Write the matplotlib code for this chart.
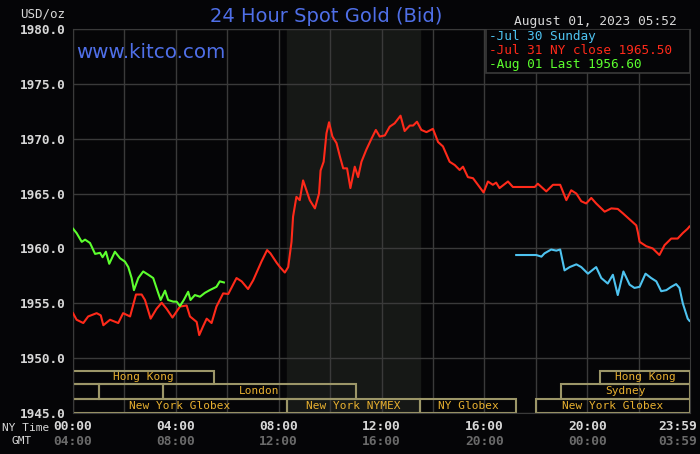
import matplotlib.pyplot as plt
from matplotlib.patches import Rectangle

# Jul 31 NY close (red) - hour of NY day, price
red_hours = [0.0, 0.14, 0.40, 0.59, 0.92, 1.08, 1.18, 1.44, 1.76, 1.95, 2.22, 2.45, 2.67, 2.80,
             3.02, 3.25, 3.45, 3.64, 3.87, 4.16, 4.42, 4.55, 4.81, 4.91, 5.06, 5.20, 5.39, 5.58,
             5.84, 6.04, 6.36, 6.56, 6.81, 7.01, 7.33, 7.55, 7.68, 7.92, 8.05, 8.24, 8.37, 8.50,
             8.56, 8.69, 8.82, 8.95, 9.08, 9.21, 9.41, 9.57, 9.63, 9.75, 9.86, 9.96, 10.09, 10.25,
             10.38, 10.51, 10.66, 10.79, 10.96, 11.09, 11.22, 11.41, 11.61, 11.78, 11.93, 12.13,
             12.32, 12.51, 12.74, 12.90, 13.10, 13.23, 13.38, 13.55, 13.75, 14.00, 14.20, 14.39,
             14.65, 14.85, 15.04, 15.17, 15.36, 15.56, 15.75, 15.97, 16.14, 16.33, 16.46, 16.59,
             16.92, 17.11, 17.96, 18.08, 18.41, 18.67, 18.95, 19.19, 19.38, 19.58, 19.77, 19.96,
             20.16, 20.35, 20.68, 20.94, 21.19, 21.39, 21.65, 21.91, 21.97, 22.04, 22.30, 22.55,
             22.81, 23.01, 23.27, 23.52, 23.72, 23.91, 23.98]
red_prices = [1954.1, 1953.5, 1953.2, 1953.8, 1954.1, 1953.9, 1953.0, 1953.5, 1953.2, 1954.1,
              1953.8, 1955.8, 1955.8, 1955.3, 1953.6, 1954.5, 1955.05, 1954.5, 1953.7, 1954.7,
              1954.8, 1953.8, 1953.3, 1952.1, 1952.9, 1953.6, 1953.2, 1954.7, 1955.9, 1955.85,
              1957.3, 1957.0, 1956.3, 1957.1, 1958.8, 1959.85, 1959.55, 1958.7, 1958.3, 1957.8,
              1958.3, 1960.6, 1962.9, 1964.7, 1964.4, 1966.2, 1965.3, 1964.4, 1963.65, 1965.0,
              1967.1, 1967.9, 1970.5, 1971.5, 1970.2, 1969.6, 1968.4, 1967.3, 1967.3, 1965.5,
              1967.45, 1966.5, 1967.9, 1969.0, 1970.0, 1970.8, 1970.2, 1970.3, 1971.1, 1971.4,
              1972.1, 1970.7, 1971.2, 1971.2, 1971.55, 1970.8, 1970.6, 1970.9, 1969.7, 1969.3,
              1967.9, 1967.6, 1967.15, 1967.45, 1966.5, 1966.4, 1965.8, 1965.1, 1966.1, 1965.8,
              1966.0, 1965.5, 1966.1, 1965.6, 1965.6, 1965.9, 1965.2, 1965.8, 1965.8, 1964.4,
              1965.3, 1965.0, 1964.3, 1964.1, 1964.6, 1964.1, 1963.35, 1963.65, 1963.6, 1963.2,
              1962.65, 1962.1, 1961.5, 1960.6, 1960.2, 1960.0, 1959.4, 1960.3, 1960.9, 1960.9,
              1961.4, 1961.8, 1962.0]

# Jul 30 Sunday (blue)
blue_hours = [17.24, 18.02, 18.22, 18.34, 18.60, 18.80, 18.95, 19.12, 19.32, 19.58, 19.77, 20.03,
              20.35, 20.55, 20.80, 21.00, 21.19, 21.41, 21.65, 21.84, 22.04, 22.27, 22.49, 22.69,
              22.88, 23.08, 23.27, 23.46, 23.59, 23.72, 23.91, 23.98]
blue_prices = [1959.4, 1959.4, 1959.25, 1959.55, 1959.9, 1959.8, 1959.9, 1958.0, 1958.3, 1958.55,
               1958.3, 1957.7, 1958.3, 1957.3, 1956.8, 1957.6, 1955.75, 1957.9, 1956.7, 1956.4,
               1956.5, 1957.7, 1957.3, 1957.0, 1956.1, 1956.2, 1956.5, 1956.75, 1956.4, 1955.0,
               1953.6, 1953.4]

# Aug 01 Last (green)
green_hours = [0.0, 0.14, 0.34, 0.47, 0.66, 0.86, 1.05, 1.15, 1.28, 1.41, 1.63, 1.83, 2.02, 2.15,
               2.28, 2.37, 2.54, 2.73, 2.93, 3.12, 3.32, 3.41, 3.58, 3.70, 3.90, 4.03, 4.16, 4.31,
               4.48, 4.57, 4.74, 4.94, 5.13, 5.32, 5.58, 5.71, 5.87]
green_prices = [1961.8, 1961.4, 1960.6, 1960.8, 1960.5, 1959.5, 1959.6, 1959.2, 1959.7, 1958.6,
                1959.7, 1959.1, 1958.8, 1958.3, 1957.3, 1956.2, 1957.3, 1957.9, 1957.6, 1957.3,
                1955.9, 1955.3, 1956.15, 1955.3, 1955.15, 1955.15, 1954.75, 1955.3, 1956.05,
                1955.3, 1955.75, 1955.6, 1955.95, 1956.2, 1956.5, 1957.0, 1956.9]

y_ticks = [1945, 1950, 1955, 1960, 1965, 1970, 1975, 1980]
x_ticks = [0, 4, 8, 12, 16, 20, 23.983]
ny_labels = ["00:00", "04:00", "08:00", "12:00", "16:00", "20:00", "23:59"]
gmt_labels = ["04:00", "08:00", "12:00", "16:00", "20:00", "00:00", "03:59"]

# trading sessions: (row, start hour, end hour, label)
sessions = [
    (0, 0.0, 5.5, "Hong Kong"),
    (0, 20.5, 24.0, "Hong Kong"),
    (1, 0.0, 1.0, ""),
    (1, 1.0, 3.5, ""),
    (1, 3.5, 11.0, "London"),
    (1, 19.0, 24.0, "Sydney"),
    (2, 0.0, 8.33, "New York Globex"),
    (2, 8.33, 13.5, "New York NYMEX"),
    (2, 13.5, 17.25, "NY Globex"),
    (2, 18.0, 24.0, "New York Globex"),
]
row_bounds = [(1947.64, 1948.85), (1946.28, 1947.64), (1945.0, 1946.28)]

mono = "DejaVu Sans Mono"
bg = "#050507"
grid_c = "#3a3a3a"
light = "#d8d8d8"

fig = plt.figure(figsize=(7, 4.54), dpi=100, facecolor=bg)
ax = fig.add_axes([73 / 700, 41 / 454, 617 / 700, 384 / 454], facecolor=bg)

ax.axvspan(8.33, 13.5, color="#161816", zorder=0)
ax.set_xlim(0, 24)
ax.set_ylim(1945, 1980)
ax.set_xticks(range(0, 24, 2))
ax.set_yticks(y_ticks)
ax.grid(True, color=grid_c, linewidth=1.0, zorder=1)
ax.tick_params(length=0, labelbottom=False, pad=5)
ax.set_yticklabels([f"{v:.1f}" for v in y_ticks], family=mono, fontsize=9.2,
                   color=light, fontweight="bold")
for s in ax.spines.values():
    s.set_color(grid_c)

for row, x0, x1, label in sessions:
    lo, hi = row_bounds[row]
    ax.add_patch(Rectangle((x0, lo), x1 - x0, hi - lo, fill=False,
                           edgecolor="#9c9668", linewidth=1.5, zorder=2))
    if label:
        ax.text((x0 + x1) / 2, (lo + hi) / 2, label, ha="center", va="center",
                family=mono, fontsize=8, color="#e8b030", zorder=3)

ax.plot(red_hours, red_prices, color="#ff2a1a", linewidth=1.5, zorder=4)
ax.plot(blue_hours, blue_prices, color="#4ec3f0", linewidth=1.5, zorder=4)
ax.plot(green_hours, green_prices, color="#5cff2e", linewidth=1.5, zorder=4)

# legend box
ax.add_patch(Rectangle((16.05, 1976.0), 7.95, 4.0, facecolor=bg, edgecolor=grid_c,
                       linewidth=1.2, zorder=5))
legend_rows = [("-Jul 30 Sunday", "#4ec3f0"),
               ("-Jul 31 NY close 1965.50", "#ff2a1a"),
               ("-Aug 01 Last 1956.60", "#5cff2e")]
for i, (txt, c) in enumerate(legend_rows):
    ax.text(16.2, 1979.3 - i * 1.27, txt, family=mono, fontsize=9.2, color=c,
            va="center", ha="left", zorder=6)

# x tick labels in two rows
for x, ny, gmt in zip(x_ticks, ny_labels, gmt_labels):
    ha = "center"
    xt = x
    if ny == "23:59":
        ha = "right"
        xt = 24.26
    ax.text(xt, -0.035, ny, transform=ax.get_xaxis_transform(), ha=ha, va="center",
            family=mono, fontsize=9.3, fontweight="bold", color=light)
    ax.text(xt, -0.075, gmt, transform=ax.get_xaxis_transform(), ha=ha, va="center",
            family=mono, fontsize=9.3, fontweight="bold", color="#6a6a6a")

fig.text(2 / 700, 1 - 428 / 454, "NY Time", family=mono, fontsize=8, color=light,
         va="center", ha="left")
fig.text(12 / 700, 1 - 441 / 454, "GMT", family=mono, fontsize=8, color=light,
         va="center", ha="left")
fig.text(20 / 700, 1 - 14 / 454, "USD/oz", family=mono, fontsize=9, color=light,
         va="center", ha="left")
fig.text(326 / 700, 1 - 16 / 454, "24 Hour Spot Gold (Bid)", fontsize=14, color="#4f6fe8",
         va="center", ha="center")
fig.text(677 / 700, 1 - 21 / 454, "August 01, 2023 05:52", family=mono, fontsize=9.3,
         color=light, va="center", ha="right")
fig.text(76 / 700, 1 - 53 / 454, "www.kitco.com", fontsize=14.3, color="#4f6fe8",
         va="center", ha="left")

fig.savefig("out.png", dpi=100, facecolor=bg)
